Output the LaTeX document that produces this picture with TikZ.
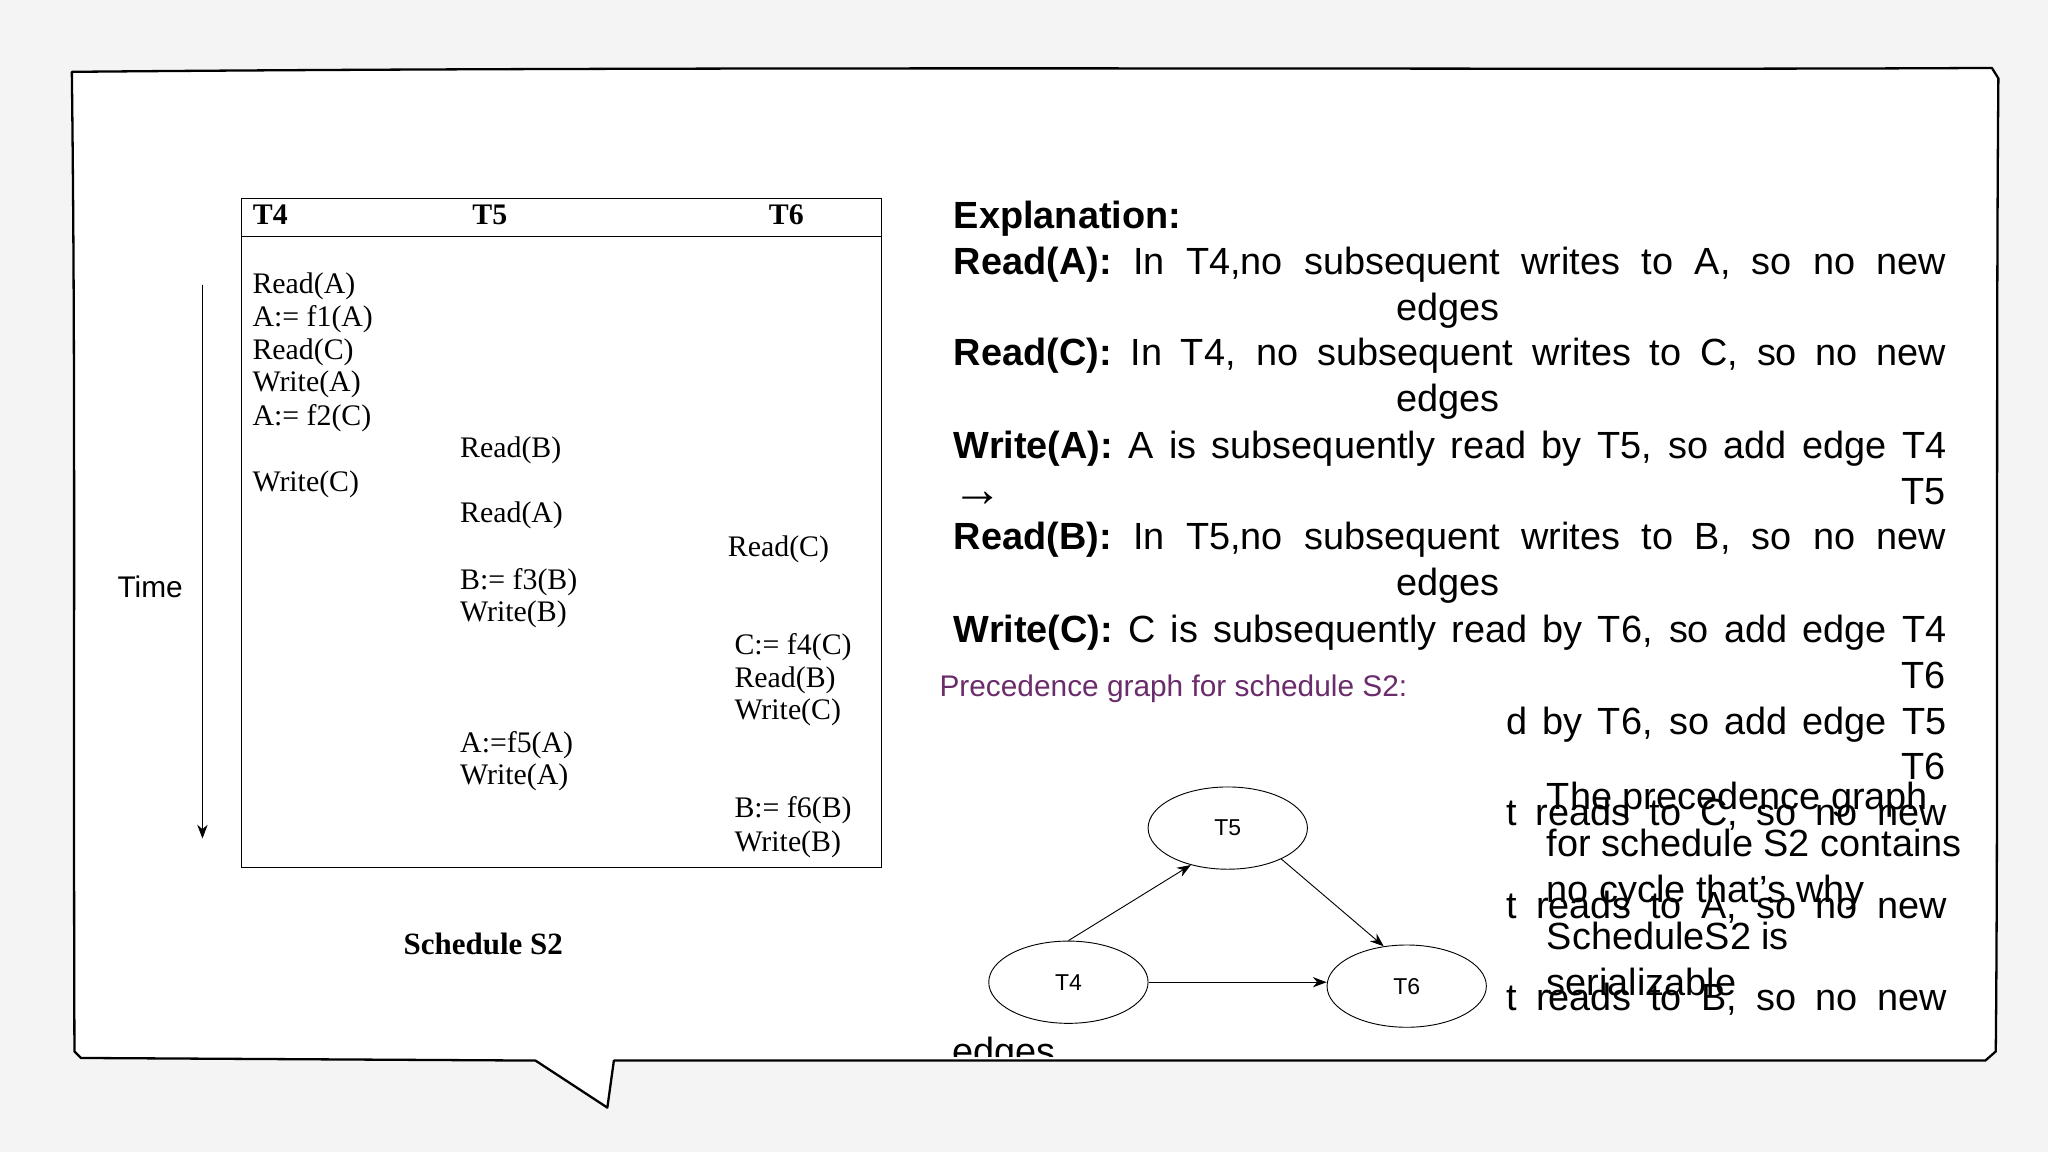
\documentclass[tikz,border=0pt]{standalone}
\usepackage{fontspec}
\setmainfont{Liberation Serif}
\setsansfont{Liberation Sans}
\usetikzlibrary{arrows.meta,shapes.geometric}
\definecolor{bg}{HTML}{F4F4F4}
\definecolor{purp}{HTML}{6B2C6B}
\tikzset{
 ex/.style={anchor=base west,inner sep=0,font=\sffamily\fontsize{16.5}{18}\selectfont},
 exr/.style={anchor=base east,inner sep=0,font=\sffamily\fontsize{16.5}{18}\selectfont},
 tb/.style={anchor=base west,inner sep=0,font=\fontsize{13}{15}\selectfont},
 th/.style={anchor=base,inner sep=0,font=\bfseries\fontsize{13}{15}\selectfont},
 gn/.style={draw,ellipse,minimum width=2.44cm,minimum height=1.26cm,font=\sffamily\fontsize{10}{12}\selectfont},
 ga/.style={-{Stealth[length=6pt]},thin}
}
\newcommand{\jl}[2]{\makebox[#1][s]{#2}}
\begin{document}
\begin{tikzpicture}[x=0.02cm,y=-0.02cm]
\fill[bg] (0,0) rectangle (1568,882);
\useasboundingbox (0,0) rectangle (1568,882);
\path[fill=white,draw=black,line width=1pt,line join=round]
 (55,55) .. controls (600,50) and (1200,54) .. (1525,52) -- (1530,60)
 .. controls (1528,300) and (1530,600) .. (1528,805) -- (1520,812)
 -- (470,812) -- (465,848) -- (410,812) -- (62,810) -- (57,805)
 .. controls (56,500) and (58,300) .. (55,55) -- cycle;
% table
\draw (185,152) rectangle (675,664);
\draw (185,181) -- (675,181);
\node[th] at (207,172) {T4};
\node[th] at (375,172) {T5};
\node[th] at (602,172) {T6};
\node[tb] at (193,225) {Read(A)};
\node[tb] at (193,250) {A:= f1(A)};
\node[tb] at (193,275) {Read(C)};
\node[tb] at (193,300) {Write(A)};
\node[tb] at (193,326) {A:= f2(C)};
\node[tb] at (352,350) {Read(B)};
\node[tb] at (193,376) {Write(C)};
\node[tb] at (352,400) {Read(A)};
\node[tb] at (557,426) {Read(C)};
\node[tb] at (352,451) {B:= f3(B)};
\node[tb] at (352,476) {Write(B)};
\node[tb] at (562,501) {C:= f4(C)};
\node[tb] at (562,526) {Read(B)};
\node[tb] at (562,551) {Write(C)};
\node[tb] at (352,576) {A:=f5(A)};
\node[tb] at (352,601) {Write(A)};
\node[tb] at (562,626) {B:= f6(B)};
\node[tb] at (562,652) {Write(B)};
\coordinate (t1) at (155,218); \coordinate (t2) at (155,642);
\draw[-{Stealth[length=6pt]}] (t1) -- (t2);
\node[font=\sffamily\fontsize{13}{15}\selectfont] (time) at (115,449) {Time};
\node[font=\bfseries\fontsize{13.5}{15}\selectfont] (sch) at (370,723) {Schedule S2};
% explanation
\begin{scope}
\clip (0,0) rectangle (1568,809);
\node[ex] at (730,175) {\textbf{Explanation:}};
\node[ex] at (730,210) {\jl{15.2cm}{\textbf{Read(A):} In T4,no subsequent writes to A, so no new}};
\node[ex] at (1069,245) {edges};
\node[ex] at (730,280) {\jl{15.2cm}{\textbf{Read(C):} In T4, no subsequent writes to C, so no new}};
\node[ex] at (1069,315) {edges};
\node[ex] at (730,351) {\jl{15.2cm}{\textbf{Write(A):} A is subsequently read by T5, so add edge T4}};
\node[ex,font=\sffamily\fontsize{22}{24}\selectfont] at (729,388) {→};
\node[exr] at (1490,386) {T5};
\node[ex] at (730,421) {\jl{15.2cm}{\textbf{Read(B):} In T5,no subsequent writes to B, so no new}};
\node[ex] at (1069,456) {edges};
\node[ex] at (730,492) {\jl{15.2cm}{\textbf{Write(C):} C is subsequently read by T6, so add edge T4}};
\node[exr] at (1490,527) {T6};
\node[ex] at (1153,562) {\jl{6.74cm}{d by T6, so add edge T5}};
\node[exr] at (1490,597) {T6};
\node[ex] at (1153,632) {\jl{6.74cm}{t reads to C, so no new}};
\node[ex] at (1153,703) {\jl{6.74cm}{t reads to A, so no new}};
\node[ex] at (1153,774) {\jl{6.74cm}{t reads to B, so no new}};
\node[ex] at (729,815) {edges};
\node[ex] at (1184,620) {The precedence graph};
\node[ex] at (1184,656) {for schedule S2 contains};
\node[ex] at (1184,691) {no cycle that's why};
\node[ex] at (1184,727) {ScheduleS2 is};
\node[ex] at (1184,762) {serializable};
\end{scope}
\node[anchor=west,inner sep=0,text=purp,font=\sffamily\fontsize{13}{15}\selectfont] (pl) at (719,527) {Precedence graph for schedule S2:};
% graph
\node[gn] (T5) at (940,634) {T5};
\node[gn] (T4) at (818,752) {T4};
\node[gn] (T6) at (1077,755) {T6};
\draw[ga] (T4.north) -- (T5.-135);
\draw[ga] (T5.-30) -- (T6.120);
\draw[ga] (T4.east) -- (T6.west|-T4.east);
\end{tikzpicture}
\end{document}
